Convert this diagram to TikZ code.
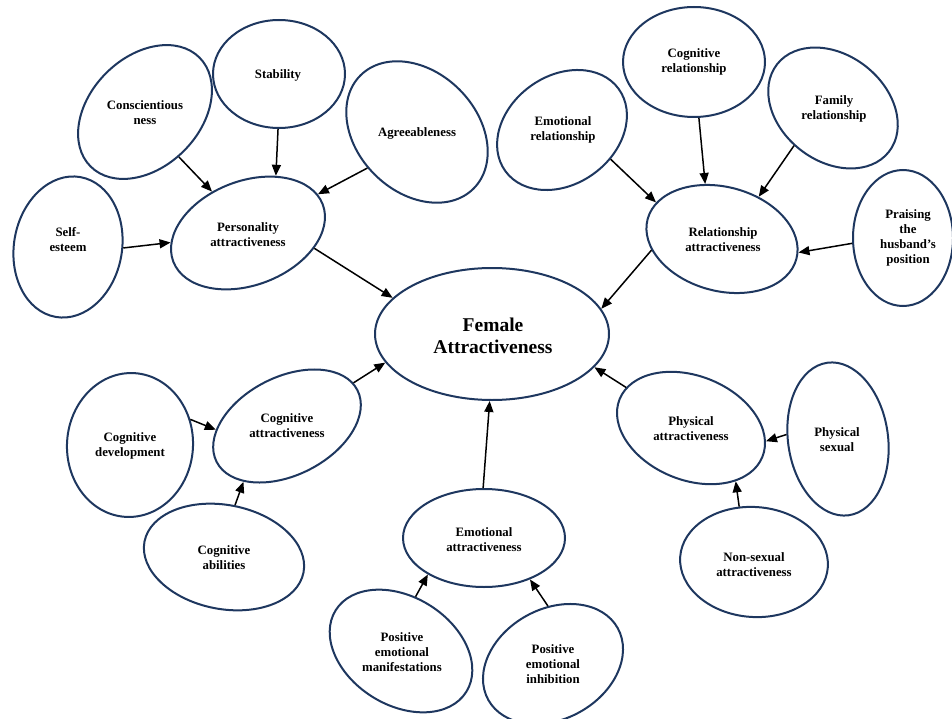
\documentclass[tikz,border=0pt]{standalone}
\usepackage{fontspec}
\setmainfont{Liberation Serif}
\usetikzlibrary{shapes.geometric,arrows.meta}
\definecolor{ring}{RGB}{30,55,95}
\begin{document}
\begin{tikzpicture}[x=1pt,y=-1pt,
  ell/.style={ellipse, draw=ring, line width=2pt, inner sep=0pt, fill=white},
  lbl/.style={font=\bfseries\fontsize{12.8}{15}\selectfont, align=center, inner sep=0pt},
  big/.style={font=\bfseries\fontsize{19.5}{22.5}\selectfont, align=center, inner sep=0pt},
  arr/.style={line width=1.5pt, -{Triangle[length=11pt,width=9pt]}}]
\useasboundingbox (0,0) rectangle (952,719);

% ellipses
\node[ell, minimum width=234pt, minimum height=132pt] (fem) at (492,334) {};
\node[ell, rotate=21, minimum width=160pt, minimum height=104pt] (pers) at (248,233) {};
\node[ell, rotate=-10, minimum width=108pt, minimum height=142pt] (self) at (68,247) {};
\node[ell, rotate=45, minimum width=154pt, minimum height=110pt] (cons) at (145,112) {};
\node[ell, minimum width=132pt, minimum height=108pt] (stab) at (279,74) {};
\node[ell, rotate=-45, minimum width=160pt, minimum height=120pt] (agree) at (417,132) {};
\node[ell, rotate=36, minimum width=140pt, minimum height=108pt] (emrel) at (562,130) {};
\node[ell, minimum width=142pt, minimum height=110pt] (cogrel) at (694,62) {};
\node[ell, rotate=-38, minimum width=142pt, minimum height=106pt] (famrel) at (833,108) {};
\node[ell, rotate=-15, minimum width=154pt, minimum height=104pt] (relattr) at (722,239) {};
\node[ell, minimum width=100pt, minimum height=136pt] (praise) at (903,238) {};
\node[ell, rotate=27, minimum width=158pt, minimum height=98pt] (cogattr) at (287,426) {};
\node[ell, rotate=-4, minimum width=126pt, minimum height=144pt] (cogdev) at (130,445) {};
\node[ell, rotate=-11, minimum width=162pt, minimum height=104pt] (cogab) at (224,557) {};
\node[ell, minimum width=162pt, minimum height=98pt] (emattr) at (484,538) {};
\node[ell, rotate=-32, minimum width=154pt, minimum height=108pt] (posman) at (401,651) {};
\node[ell, rotate=29, minimum width=148pt, minimum height=110pt] (posinh) at (553,664) {};
\node[ell, rotate=-22, minimum width=154pt, minimum height=104pt] (phyattr) at (691,428) {};
\node[ell, rotate=8, minimum width=100pt, minimum height=154pt] (physex) at (838,439) {};
\node[ell, rotate=-4, minimum width=148pt, minimum height=110pt] (nonsex) at (754,562) {};

% labels
\node[big] (t-fem) at (493,336) {Female\\Attractiveness};
\node[lbl] (t-pers) at (248,235) {Personality\\attractiveness};
\node[lbl] (t-self) at (68,240) {Self-\\esteem};
\node[lbl] (t-cons) at (145,113) {Conscientious\\ness};
\node[lbl] (t-stab) at (278,75) {Stability};
\node[lbl] (t-agree) at (417,133) {Agreeableness};
\node[lbl] (t-emrel) at (563,130) {Emotional\\relationship};
\node[lbl] (t-cogrel) at (694,62) {Cognitive\\relationship};
\node[lbl] (t-famrel) at (834,109) {Family\\relationship};
\node[lbl] (t-relattr) at (723,240) {Relationship\\attractiveness};
\node[lbl] (t-praise) at (908,238) {Praising\\the\\husband's\\position};
\node[lbl] (t-cogattr) at (287,426) {Cognitive\\attractiveness};
\node[lbl] (t-cogdev) at (130,446) {Cognitive\\development};
\node[lbl] (t-cogab) at (224,558) {Cognitive\\abilities};
\node[lbl] (t-emattr) at (484,540) {Emotional\\attractiveness};
\node[lbl] (t-posman) at (402,652) {Positive\\emotional\\manifestations};
\node[lbl] (t-posinh) at (553,664) {Positive\\emotional\\inhibition};
\node[lbl] (t-phyattr) at (691,429) {Physical\\attractiveness};
\node[lbl] (t-physex) at (837,440) {Physical\\sexual};
\node[lbl] (t-nonsex) at (754,565) {Non-sexual\\attractiveness};

% connectors
\draw[arr] (cons.-98.7) -- (pers.110.9);
\draw[arr] (stab.-91) -- (pers.43.2);
\draw[arr] (agree.-99.5) -- (pers.8.7);
\draw[arr] (self.9) -- (pers.166.5);
\draw[arr] (pers.-34.6) -- (fem.160);
\draw[arr] (emrel.-67.3) -- (relattr.166.2);
\draw[arr] (cogrel.-85.8) -- (relattr.122.8);
\draw[arr] (famrel.-98.4) -- (relattr.64.5);
\draw[arr] (praise.-174.6) -- (relattr.5.3);
\draw[arr] (relattr.-156.8) -- (fem.13.3);
\draw[arr] (cogdev.27.4) -- (cogattr.156.9);
\draw[arr] (cogab.89) -- (cogattr.-155.2);
\draw[arr] (cogattr.6.1) -- (fem.-165.6);
\draw[arr] (emattr.91) -- (fem.-92);
\draw[arr] (posman.107.5) -- (emattr.-147.7);
\draw[arr] (posinh.66.1) -- (emattr.-42.4);
\draw[arr] (phyattr.170.9) -- (fem.-18.6);
\draw[arr] (physex.167.7) -- (phyattr.12.8);
\draw[arr] (nonsex.109.3) -- (phyattr.-28.8);
\end{tikzpicture}
\end{document}
